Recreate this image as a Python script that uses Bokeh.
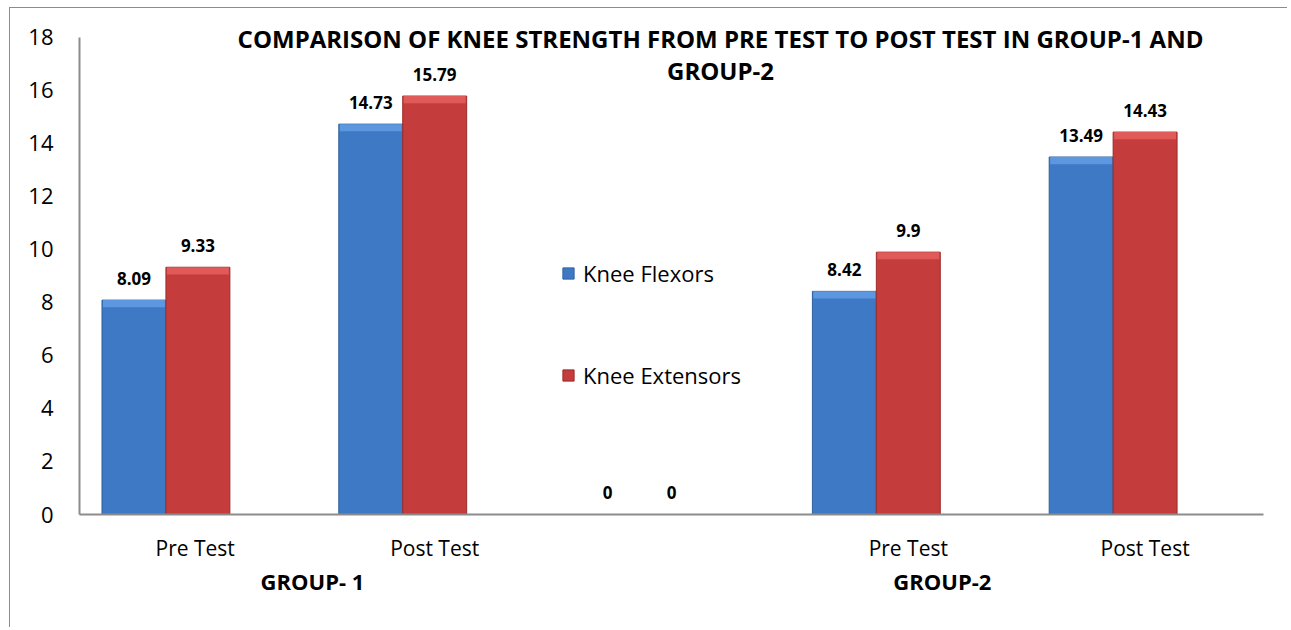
from bokeh.plotting import figure
from bokeh.models import (ColumnDataSource, Label, Legend, LegendItem, FixedTicker,
                          LinearAxis)
from bokeh.transform import dodge
from bokeh.core.properties import value
from bokeh.embed import file_html
from bokeh.resources import INLINE

# ---- data ----
categories = ["Pre  Test", "Post Test", "", "Pre Test", "Post Test"]
flexors = [8.09, 14.73, 0, 8.42, 13.49]
extensors = [9.33, 15.79, 0, 9.9, 14.43]
series_names = ["Knee Flexors", "Knee Extensors"]
group_names = ["GROUP- 1", "GROUP-2"]
title_lines = ["COMPARISON OF KNEE STRENGTH FROM PRE TEST TO POST TEST IN GROUP-1 AND",
               "GROUP-2"]
y_ticks = [0, 2, 4, 6, 8, 10, 12, 14, 16, 18]

FONT = "Open Sans"
BLUE = "#3d79c4"
BLUE_EDGE = "#2f5f9c"
BLUE_LIGHT = "#5c97e0"
RED = "#c43c3b"
RED_EDGE = "#9a2c2b"
RED_LIGHT = "#df5a58"
AXIS = "#8c8c8c"
W = 0.27        # bar width in category units
BEVEL = 0.27    # depth of the lighter top facet, in value units
Y_MAX = 18
Y_TOP = 19.094  # room for the title inside the frame

xs = list(range(len(categories)))
src = ColumnDataSource(dict(
    x=xs, flex=flexors, ext=extensors,
    flex_bev=[max(v - BEVEL, 0) for v in flexors],
    ext_bev=[max(v - BEVEL, 0) for v in extensors],
    flex_lbl=[f"{v:g}" for v in flexors],
    ext_lbl=[f"{v:g}" for v in extensors],
))

p = figure(width=1278, height=620, output_backend="svg", toolbar_location=None,
           x_range=(-0.5, len(categories) - 0.5), y_range=(0, Y_TOP),
           min_border_left=69, min_border_right=25, min_border_top=0,
           min_border_bottom=114)
p.styles = {"border-left": "1px solid #8c8c8c", "border-top": "1px solid #8c8c8c",
            "margin-left": "9px", "margin-top": "7px"}

p.xgrid.visible = False
p.ygrid.visible = False
p.outline_line_color = None

for ax in (p.xaxis[0], p.yaxis[0]):
    ax.major_tick_in = 0
    ax.major_tick_out = 0
    ax.minor_tick_in = 0
    ax.minor_tick_out = 0
    ax.axis_line_color = AXIS
    ax.axis_line_width = 2
    ax.major_label_text_font = FONT
    ax.major_label_text_color = "#000000"

p.xaxis.ticker = FixedTicker(ticks=xs)
p.xaxis.major_label_overrides = {i: c for i, c in enumerate(categories)}
p.xaxis.major_label_text_font_size = "21px"
p.xaxis.major_label_standoff = 19

p.yaxis.ticker = FixedTicker(ticks=y_ticks)
p.yaxis.bounds = (0, Y_MAX)
p.yaxis.major_label_text_font_size = "22px"
p.yaxis.major_label_standoff = 26

# group captions as a second category row below the x axis
group_axis = LinearAxis(ticker=FixedTicker(ticks=[0.484, 3.144]),
                        major_label_overrides={0.484: group_names[0],
                                               3.144: group_names[1]},
                        axis_line_color=None, major_tick_in=0, major_tick_out=0,
                        minor_tick_in=0, minor_tick_out=0,
                        major_label_standoff=1,
                        major_label_text_font=FONT,
                        major_label_text_font_style="bold",
                        major_label_text_font_size="22px",
                        major_label_text_color="#000000")
p.add_layout(group_axis, "below")

r1 = p.vbar(x=dodge("x", -W, range=p.x_range), top="flex", width=W, source=src,
            fill_color=BLUE, line_color=BLUE_EDGE, line_width=1)
r2 = p.vbar(x=dodge("x", 0, range=p.x_range), top="ext", width=W, source=src,
            fill_color=RED, line_color=RED_EDGE, line_width=1)
# lighter bevelled top facet of each bar
p.vbar(x=dodge("x", -W, range=p.x_range), top="flex", bottom="flex_bev",
       width=W * 0.97, source=src, fill_color=BLUE_LIGHT, line_color=None)
p.vbar(x=dodge("x", 0, range=p.x_range), top="ext", bottom="ext_bev",
       width=W * 0.97, source=src, fill_color=RED_LIGHT, line_color=None)

for col, lbl, off in (("flex", "flex_lbl", -W), ("ext", "ext_lbl", 0)):
    p.text(x=dodge("x", off, range=p.x_range), y=col, text=lbl, source=src,
           text_align="center", text_baseline="alphabetic", y_offset=-22,
           text_font=value(FONT), text_font_style="bold", text_font_size="17px",
           text_color="#000000")

legend = Legend(items=[LegendItem(label=series_names[0], renderers=[r1]),
                       LegendItem(label=series_names[1], renderers=[r2])],
                location=(482, 124), orientation="vertical",
                glyph_width=14, glyph_height=14, label_height=30, spacing=72,
                padding=0, margin=0, border_line_color=None,
                background_fill_alpha=0, label_standoff=8,
                label_text_font=FONT, label_text_font_size="22px",
                label_text_color="#000000")
p.add_layout(legend)

# two-line chart title
for line, ty in zip(title_lines, [17.96, 16.755]):
    p.add_layout(Label(x=2.207, y=ty, text=line, text_align="center",
                       text_baseline="alphabetic", text_font=FONT,
                       text_font_style="bold", text_font_size="24px",
                       text_color="#000000"))

open("out.html", "w").write(file_html(p, INLINE))
